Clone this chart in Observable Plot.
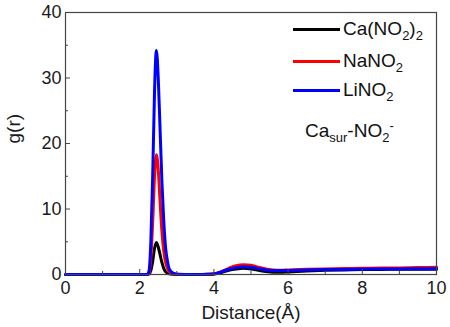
<!DOCTYPE html>
<html>
<head>
<meta charset="utf-8">
<script src="https://cdn.jsdelivr.net/npm/d3@7"></script>
<script src="https://cdn.jsdelivr.net/npm/@observablehq/plot@0.6"></script>
<style>
  html, body { margin: 0; padding: 0; background: white; }
  #wrap { position: relative; width: 450px; height: 327px; font-family: "Liberation Sans", Arial, sans-serif; }
  .leg { position: absolute; font-size: 19px; line-height: 20px; color: #111; white-space: nowrap; }
  .sw { position: absolute; height: 3px; width: 47px; }
  sub, sup { font-size: 13px; line-height: 0; }
  sub { vertical-align: -5px; }
  sup { vertical-align: 7px; }
</style>
</head>
<body>
<div id="wrap"></div>
<script>
const distance = [0, 2.2, 2.25, 2.3, 2.35, 2.4, 2.45, 2.5, 2.55, 2.6, 2.65, 2.7, 2.75, 2.8, 2.9, 3.0, 3.5, 3.9, 4.0, 4.2, 4.4, 4.6, 4.8, 5.0, 5.2, 5.4, 5.6, 5.8, 6.0, 6.5, 7.0, 7.5, 8.0, 8.5, 9.0, 9.5, 10.0];
const caNO2 = [0, 0, 0.05, 0.6, 2.0, 4.0, 4.9, 4.2, 3.0, 1.8, 0.9, 0.4, 0.2, 0.1, 0.03, 0, 0, 0.02, 0.06, 0.3, 0.65, 0.85, 0.95, 0.85, 0.65, 0.45, 0.35, 0.35, 0.4, 0.55, 0.65, 0.7, 0.75, 0.78, 0.8, 0.8, 0.8];
const naNO2 = [0, 0, 0.2, 2.5, 8.0, 15.0, 18.3, 16.0, 11.0, 6.5, 3.5, 1.8, 0.9, 0.4, 0.1, 0.02, 0, 0.03, 0.1, 0.45, 0.95, 1.35, 1.5, 1.4, 1.1, 0.85, 0.7, 0.65, 0.7, 0.8, 0.85, 0.9, 0.95, 0.98, 1.0, 1.05, 1.1];
const liNO2 = [0, 0, 0.5, 5.0, 15.0, 28.0, 34.2, 30.0, 22.0, 14.0, 8.0, 4.0, 2.0, 0.8, 0.2, 0.05, 0, 0.03, 0.08, 0.4, 0.8, 1.05, 1.2, 1.1, 0.9, 0.7, 0.6, 0.6, 0.62, 0.7, 0.75, 0.78, 0.82, 0.84, 0.85, 0.88, 0.9];
const seriesNames = ["Ca(NO2)2", "NaNO2", "LiNO2"];
const seriesColors = ["#000000", "#ff0000", "#0000ff"];
const xTicks = [0, 2, 4, 6, 8, 10];
const xMinor = [1, 3, 5, 7, 9];
const yTicks = [0, 10, 20, 30, 40];
const yMinor = [5, 15, 25, 35];

const allSeries = [caNO2, naNO2, liNO2];
const data = [];
allSeries.forEach((vals, si) => {
  vals.forEach((v, i) => data.push({x: distance[i], g: v, series: seriesNames[si]}));
});

const W = 450, H = 327, ML = 65, MR = 14, MT = 12, MB = 53;
const FW = W - ML - MR, FH = H - MT - MB;

const chart = Plot.plot({
  width: W, height: H,
  marginLeft: ML, marginRight: MR, marginTop: MT, marginBottom: MB,
  x: {domain: [0, 10]},
  y: {domain: [0, 40]},
  color: {domain: seriesNames, range: seriesColors},
  style: {fontFamily: "Liberation Sans, Arial, sans-serif", fontSize: "18px", color: "#1a1a1a", background: "white"},
  marks: [
    Plot.line(data, {x: "x", y: "g", z: "series", stroke: "series", strokeWidth: 3, curve: "monotone-x"}),
    Plot.tickX(xTicks, {x: d => d, insetTop: FH - 5, stroke: "#444"}),
    Plot.tickX(xMinor, {x: d => d, insetTop: FH - 3, stroke: "#444"}),
    Plot.tickY(yTicks, {y: d => d, insetRight: FW - 5, stroke: "#444"}),
    Plot.tickY(yMinor, {y: d => d, insetRight: FW - 3, stroke: "#444"}),
    Plot.frame({stroke: "#444", strokeWidth: 1.2}),
    Plot.axisX({ticks: xTicks, tickSize: 0, tickPadding: 7, label: null, fontSize: 18, tickFormat: d => String(d)}),
    Plot.axisY({ticks: yTicks, tickSize: 0, tickPadding: 4, label: null, fontSize: 18}),
    Plot.text(["Distance(Å)"], {frameAnchor: "bottom", dy: 38, fontSize: 19, lineAnchor: "middle"}),
    Plot.text(["g(r)"], {frameAnchor: "left", dx: -52, rotate: -90, fontSize: 19, lineAnchor: "middle"})
  ]
});
const wrap = document.getElementById("wrap");
wrap.appendChild(chart);

const legTexts = ["Ca(NO<sub>2</sub>)<sub>2</sub>", "NaNO<sub>2</sub>", "LiNO<sub>2</sub>"];
const legY = [29, 61, 90];
legTexts.forEach((t, i) => {
  const sw = document.createElement("div");
  sw.className = "sw";
  sw.style.left = "293px";
  sw.style.top = (legY[i] - 1.5) + "px";
  sw.style.background = seriesColors[i];
  wrap.appendChild(sw);
  const lab = document.createElement("div");
  lab.className = "leg";
  lab.style.left = "343px";
  lab.style.top = (legY[i] - 10) + "px";
  lab.innerHTML = t;
  wrap.appendChild(lab);
});
const ann = document.createElement("div");
ann.className = "leg";
ann.style.left = "305px";
ann.style.top = "121px";
ann.innerHTML = "Ca<sub>sur</sub>-NO<sub>2</sub><sup>-</sup>";
wrap.appendChild(ann);
</script>
</body>
</html>
